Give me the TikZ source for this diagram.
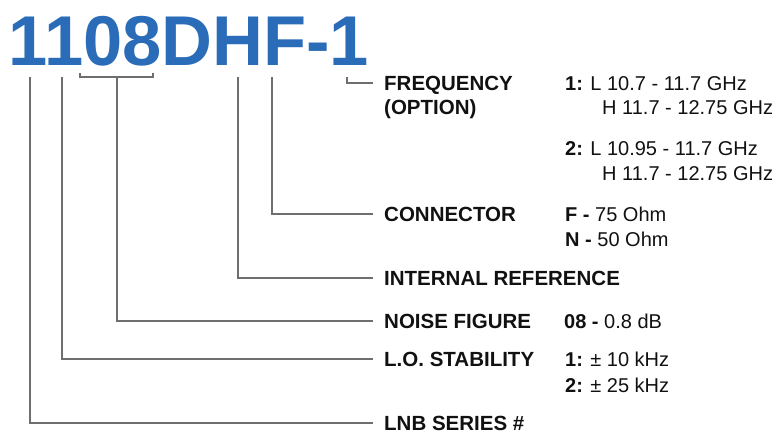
\documentclass[tikz,border=0pt]{standalone}
\usepackage{fontspec}
\setmainfont{Liberation Sans}
\usetikzlibrary{positioning}
\definecolor{CodeBlue}{HTML}{2A6CB8}
\definecolor{LeadGray}{HTML}{6E6E6E}
\definecolor{TextBlack}{HTML}{111111}
\tikzset{
    % Model number
    title/.style={
        font=\fontsize{70.5}{70}\selectfont\bfseries,
        text=CodeBlue,
        inner sep=0pt
    },
    % Field name
    field/.style={
        font=\fontsize{20.5}{21}\selectfont\bfseries,
        text=TextBlack,
        inner xsep=11pt,
        inner ysep=0pt,
        text height=14.5pt,
        text depth=0pt,
        anchor=west
    },
    % Option value
    option/.style={
        font=\fontsize{20}{21}\selectfont,
        text=TextBlack,
        inner sep=0pt,
        text height=14.5pt,
        text depth=0pt,
        anchor=west
    },
    % Leader line
    leader/.style={
        draw=LeadGray,
        line width=1.5pt
    }
}

\begin{document}
\begin{tikzpicture}[x=1pt, y=-1pt]
    \useasboundingbox (0,0) rectangle (777,434);

    % Model number
    \node (model) [title, anchor=base west] at (8.5,65.5) {1108DHF-1};

    % Leader start points under the characters
    \coordinate (serTop) at (30,77);
    \coordinate (stabTop) at (62,77);
    \coordinate (nfLeft) at (80,77);
    \coordinate (nfRight) at (153,77);
    \coordinate (nfTop) at (117,77);
    \coordinate (refTop) at (238,77);
    \coordinate (conTop) at (272,77);
    \coordinate (freqTop) at (347,77);

    % Field names
    \node (freq) [field] at (373,83) {FREQUENCY};
    \node (freqB) [field, below=9.5pt of freq.south west, anchor=north west] {(OPTION)};
    \node (con) [field] at (373,214) {CONNECTOR};
    \node (ref) [field] at (373,278) {INTERNAL REFERENCE};
    \node (nf) [field] at (373,321) {NOISE FIGURE};
    \node (stab) [field] at (373,359) {L.O. STABILITY};
    \node (ser) [field] at (373,423) {LNB SERIES \#};

    % Option values
    \node (freqA1) [option] at (565,83) {\textbf{1:} L 10.7 - 11.7 GHz};
    \node (freqA2) [option] at (602,107) {H 11.7 - 12.75 GHz};
    \node (freqB1) [option] at (565,148) {\textbf{2:} L 10.95 - 11.7 GHz};
    \node (freqB2) [option] at (602,173) {H 11.7 - 12.75 GHz};
    \node (conF) [option] at (565,214) {\textbf{F -} 75 Ohm};
    \node (conN) [option, below=10.5pt of conF.south west, anchor=north west] {\textbf{N -} 50 Ohm};
    \node (nfVal) [option] at (564,321) {\textbf{08 -} 0.8 dB};
    \node (stab1) [option] at (565,359) {\textbf{1:} ± 10 kHz};
    \node (stab2) [option, below=11.5pt of stab1.south west, anchor=north west] {\textbf{2:} ± 25 kHz};

    % Leaders
    \draw[leader] (freqTop) |- (freq.west);
    \draw[leader] (conTop) |- (con.west);
    \draw[leader] (refTop) |- (ref.west);
    \draw[leader] ([yshift=4pt]nfLeft) -- (nfLeft) -- (nfRight) -- ++(0,-4);
    \draw[leader] (nfTop) |- (nf.west);
    \draw[leader] (stabTop) |- (stab.west);
    \draw[leader] (serTop) |- (ser.west);
\end{tikzpicture}
\end{document}
